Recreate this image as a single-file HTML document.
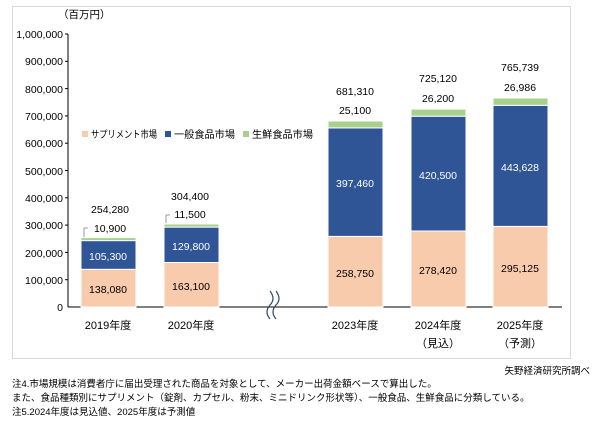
<!DOCTYPE html>
<html><head><meta charset="utf-8"><style>
body{margin:0;background:#fff;}
svg text{font-family:"Liberation Sans","Noto Sans CJK JP",sans-serif;}
</style></head><body>
<svg width="600" height="439" xmlns="http://www.w3.org/2000/svg">
<rect x="12.5" y="6.5" width="558" height="352" fill="#fff" stroke="#d9d9d9"/>
<text x="58" y="18" font-size="10.5">（百万円）</text>
<g font-size="10.5" text-anchor="end">
<text x="63" y="38">1,000,000</text>
<text x="63" y="65">900,000</text>
<text x="63" y="93">800,000</text>
<text x="63" y="120">700,000</text>
<text x="63" y="147">600,000</text>
<text x="63" y="175">500,000</text>
<text x="63" y="202">400,000</text>
<text x="63" y="229">300,000</text>
<text x="63" y="257">200,000</text>
<text x="63" y="284">100,000</text>
<text x="63" y="311">0</text>
</g>
<g stroke="#000" stroke-width="1">
<line x1="68" y1="34" x2="68" y2="307"/>
<line x1="68" y1="307" x2="562" y2="307"/>
<line x1="65" y1="34" x2="68" y2="34"/><line x1="65" y1="61.3" x2="68" y2="61.3"/><line x1="65" y1="88.6" x2="68" y2="88.6"/><line x1="65" y1="115.9" x2="68" y2="115.9"/><line x1="65" y1="143.2" x2="68" y2="143.2"/><line x1="65" y1="170.5" x2="68" y2="170.5"/><line x1="65" y1="197.8" x2="68" y2="197.8"/><line x1="65" y1="225.1" x2="68" y2="225.1"/><line x1="65" y1="252.4" x2="68" y2="252.4"/><line x1="65" y1="279.7" x2="68" y2="279.7"/>
</g>
<rect x="82" y="131" width="6" height="6" fill="#f8cbad"/><text x="91" y="138" font-size="10" textLength="66" lengthAdjust="spacingAndGlyphs">サプリメント市場</text>
<rect x="165" y="131" width="6" height="6" fill="#2f5597"/><text x="174" y="138" font-size="10" textLength="61" lengthAdjust="spacingAndGlyphs">一般食品市場</text>
<rect x="243" y="131" width="6" height="6" fill="#a9d18e"/><text x="252" y="138" font-size="10" textLength="61" lengthAdjust="spacingAndGlyphs">生鮮食品市場</text>
<g stroke="#fff" stroke-width="1">
<rect x="81" y="269.3" width="55" height="37.7" fill="#f8cbad"/>
<rect x="81" y="240.6" width="55" height="28.7" fill="#2f5597"/>
<rect x="81" y="237.6" width="55" height="3" fill="#a9d18e"/>
<rect x="164" y="262.5" width="55" height="44.5" fill="#f8cbad"/>
<rect x="164" y="227.1" width="55" height="35.4" fill="#2f5597"/>
<rect x="164" y="224" width="55" height="3.1" fill="#a9d18e"/>
<rect x="328" y="236.4" width="55" height="70.6" fill="#f8cbad"/>
<rect x="328" y="127.9" width="55" height="108.5" fill="#2f5597"/>
<rect x="328" y="121" width="55" height="6.9" fill="#a9d18e"/>
<rect x="411" y="231" width="55" height="76" fill="#f8cbad"/>
<rect x="411" y="116.2" width="55" height="114.8" fill="#2f5597"/>
<rect x="411" y="109.1" width="55" height="7.1" fill="#a9d18e"/>
<rect x="493" y="226.4" width="55" height="80.6" fill="#f8cbad"/>
<rect x="493" y="105.3" width="55" height="121.1" fill="#2f5597"/>
<rect x="493" y="98" width="55" height="7.3" fill="#a9d18e"/>
</g>
<g font-size="10.5" text-anchor="middle">
<text x="108" y="293">138,080</text><text x="108" y="260" fill="#fff">105,300</text>
<text x="191" y="290">163,100</text><text x="191" y="250" fill="#fff">129,800</text>
<text x="355" y="277">258,750</text><text x="355" y="187" fill="#fff">397,460</text>
<text x="438" y="274">278,420</text><text x="438" y="179" fill="#fff">420,500</text>
<text x="520" y="272">295,125</text><text x="520" y="171" fill="#fff">443,628</text>
<text x="110" y="232">10,900</text><text x="110" y="213">254,280</text>
<text x="190" y="218">11,500</text><text x="190" y="200">304,400</text>
<text x="355" y="114">25,100</text><text x="355" y="95">681,310</text>
<text x="438" y="102">26,200</text><text x="438" y="82">725,120</text>
<text x="520" y="91">26,986</text><text x="520" y="71">765,739</text>
</g>
<path d="M84 237 V228 H88 M166 223 V215 H170" stroke="#808080" fill="none" stroke-width="0.8"/>
<path d="M270 291 q6 8 0 14 q-6 7 0 14 M276 291 q6 8 0 14 q-6 7 0 14" stroke="#2f4a6b" fill="none" stroke-width="1.2"/>
<g font-size="11" text-anchor="middle">
<text x="108" y="329">2019年度</text><text x="191" y="329">2020年度</text>
<text x="355" y="329">2023年度</text><text x="438" y="329">2024年度</text><text x="520" y="329">2025年度</text>
<text x="438" y="347">（見込）</text><text x="520" y="347">（予測）</text>
</g>
<text x="590" y="374" font-size="9.5" text-anchor="end">矢野経済研究所調べ</text>
<g font-size="9.5">
<text x="12" y="387">注4.市場規模は消費者庁に届出受理された商品を対象として、メーカー出荷金額ベースで算出した。</text>
<text x="12" y="401">また、食品種類別にサプリメント（錠剤、カプセル、粉末、ミニドリンク形状等）、一般食品、生鮮食品に分類している。</text>
<text x="12" y="415">注5.2024年度は見込値、2025年度は予測値</text>
</g>
</svg>
</body></html>
